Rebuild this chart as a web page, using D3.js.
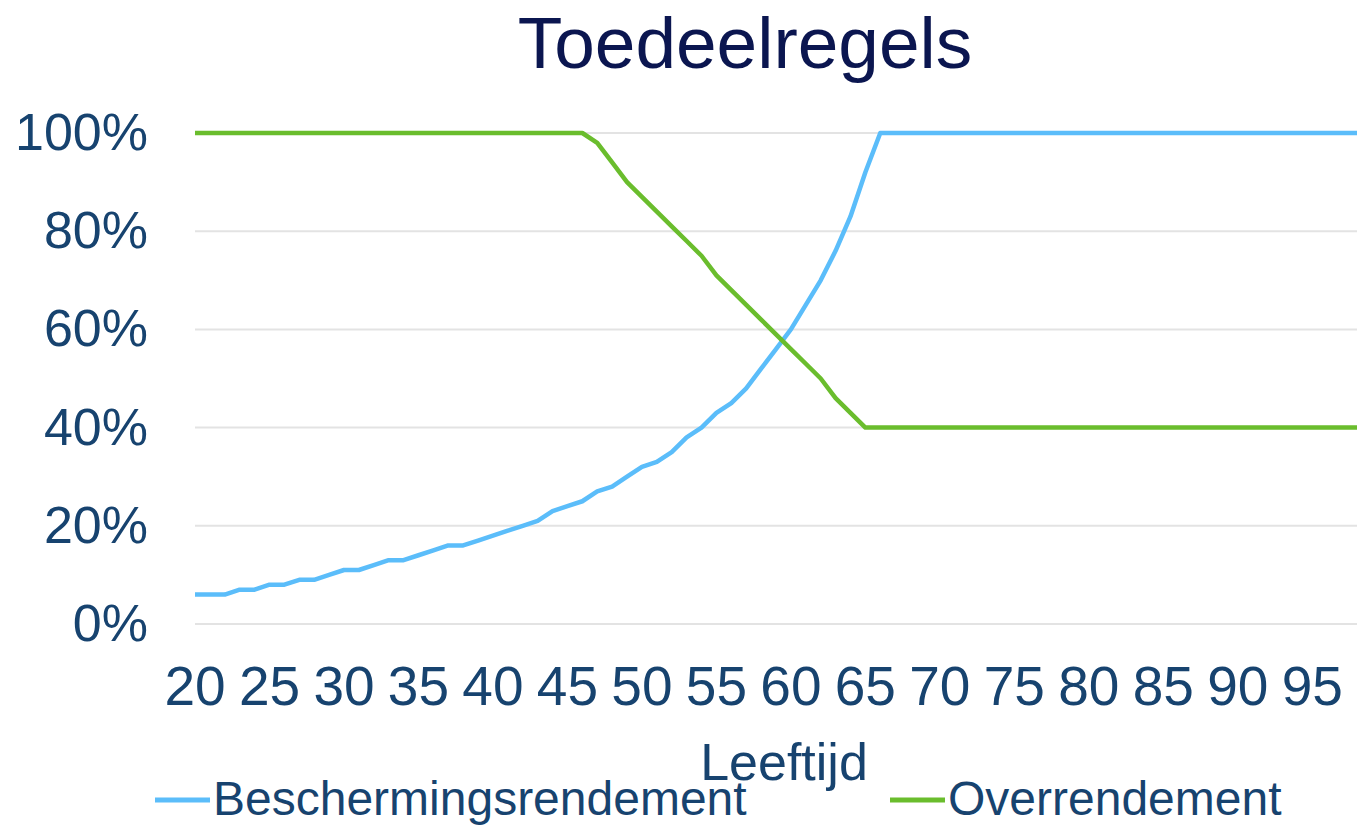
<!DOCTYPE html>
<html>
<head>
	<title>index</title>
	<meta charset="UTF-8">
	<script src="https://d3js.org/d3.v7.min.js" charset="utf-8"></script>
	<style>
		body { margin: 0; background: #fff; }
		svg { display: block; font-family: "Liberation Sans", Arial, sans-serif; }
	</style>
</head>
<body>
<script>
		// leeftijd 20..98
		var ages = d3.range(20, 99);
		// Beschermingsrendement (%) per leeftijd 20..66, daarna 100
		var bescherming = [6, 6, 6, 7, 7, 8, 8, 9, 9, 10, 11, 11, 12, 13, 13, 14, 15, 16, 16, 17,
			18, 19, 20, 21, 23, 24, 25, 27, 28, 30, 32, 33, 35, 38, 40, 43, 45, 48, 52, 56,
			60, 65, 70, 76, 83, 92, 100];
		// Overrendement (%) per leeftijd 20..65, daarna 40
		var overrendement = [100, 100, 100, 100, 100, 100, 100, 100, 100, 100, 100, 100, 100, 100, 100, 100,
			100, 100, 100, 100, 100, 100, 100, 100, 100, 100, 100, 98, 94, 90, 87, 84, 81, 78, 75, 71,
			68, 65, 62, 59, 56, 53, 50, 46, 43, 40];
		var xTicks = [20, 25, 30, 35, 40, 45, 50, 55, 60, 65, 70, 75, 80, 85, 90, 95];
		var yTicks = [0, 20, 40, 60, 80, 100];
		var seriesNames = ["Beschermingsrendement", "Overrendement"];
		var colors = ["#5bbdfa", "#6abd2d"];

		var width = 1357, height = 825;
		var plotLeft = 195, plotRight = 1357, plotTop = 133, plotBottom = 624;

		var svg = d3.select("body").append("svg").attr("width", width).attr("height", height);

		var x = d3.scaleLinear().domain([20, 98]).range([plotLeft, plotRight]);
		var y = d3.scaleLinear().domain([0, 100]).range([plotBottom, plotTop]);

		function fullSeries(arr) {
			return ages.map(function(a, i) {
				return {age: a, v: i < arr.length ? arr[i] : arr[arr.length - 1]};
			});
		}
		var data = [fullSeries(bescherming), fullSeries(overrendement)];

		// gridlines
		svg.append("g").selectAll("line").data(yTicks).enter().append("line")
			.attr("x1", plotLeft).attr("x2", plotRight)
			.attr("y1", function(d) { return y(d); }).attr("y2", function(d) { return y(d); })
			.attr("stroke", "#e3e3e3").attr("stroke-width", 2);

		// y labels
		svg.append("g").selectAll("text").data(yTicks).enter().append("text")
			.attr("x", 148).attr("y", function(d) { return y(d) + 17; })
			.attr("text-anchor", "end").attr("font-size", 52).attr("fill", "#17436f")
			.text(function(d) { return d + "%"; });

		// x labels
		svg.append("g").selectAll("text").data(xTicks).enter().append("text")
			.attr("x", function(d) { return x(d); }).attr("y", 705)
			.attr("text-anchor", "middle").attr("font-size", 55).attr("fill", "#17436f")
			.text(function(d) { return d; });

		var line = d3.line().x(function(d) { return x(d.age); }).y(function(d) { return y(d.v); });

		svg.append("g").selectAll("path").data(data).enter().append("path")
			.attr("d", line).attr("fill", "none")
			.attr("stroke", function(d, i) { return colors[i]; })
			.attr("stroke-width", 4.5).attr("stroke-linejoin", "round");

		// title
		svg.append("text").attr("x", 745).attr("y", 68).attr("text-anchor", "middle")
			.attr("font-size", 73).attr("fill", "#0b1650").text("Toedeelregels");

		// axis title
		svg.append("text").attr("x", 784).attr("y", 780).attr("text-anchor", "middle")
			.attr("font-size", 52).attr("fill", "#17436f").text("Leeftijd");

		// legend
		var legendX = [155, 890];
		var lg = svg.append("g").selectAll("g").data(seriesNames).enter().append("g")
			.attr("transform", function(d, i) { return "translate(" + legendX[i] + ",800)"; });
		lg.append("line").attr("x1", 0).attr("x2", 55).attr("y1", 0).attr("y2", 0)
			.attr("stroke", function(d, i) { return colors[i]; }).attr("stroke-width", 5);
		lg.append("text").attr("x", 58).attr("y", 15).attr("font-size", 48).attr("fill", "#17436f")
			.text(function(d) { return d; });
</script>
</body>
</html>
